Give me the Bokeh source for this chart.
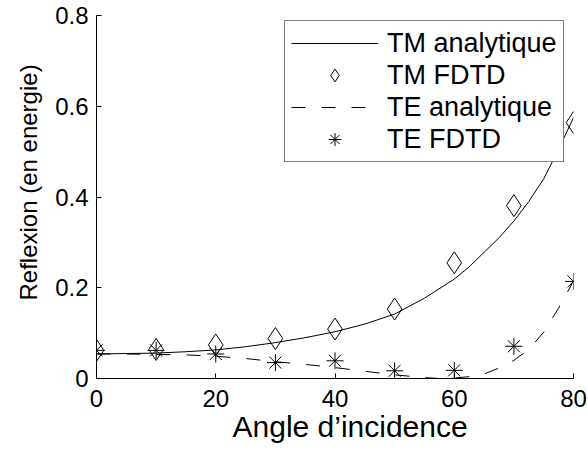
import numpy as np
from bokeh.plotting import figure
from bokeh.models import Range1d, FixedTicker, Legend, LegendItem, Title
from bokeh.embed import file_html
from bokeh.resources import INLINE

# ---- data ----
tm_curve_angles = [0, 5, 10, 15, 20, 25, 30, 35, 40, 45, 50, 55, 60, 62.5, 65, 67.5, 70, 72.5, 75, 77.5, 80]
tm_analytic = [0.054, 0.055, 0.056, 0.059, 0.063, 0.070, 0.079, 0.090, 0.103, 0.120, 0.142, 0.177,
               0.219, 0.246, 0.278, 0.310, 0.347, 0.390, 0.440, 0.505, 0.575]

te_curve_angles = [0, 5, 10, 15, 20, 25, 30, 35, 40, 45, 50, 55, 57.5, 60, 62.5, 65, 67.5, 70, 72.5, 75, 77.5, 80]
te_analytic = [0.054, 0.054, 0.053, 0.052, 0.049, 0.044, 0.037, 0.031, 0.024, 0.016, 0.008, 0.002,
               0.0, 0.001, 0.004, 0.010, 0.023, 0.040, 0.064, 0.102, 0.155, 0.215]

fdtd_angles = [0, 10, 20, 30, 40, 50, 60, 70, 80]
tm_fdtd = [0.062, 0.064, 0.074, 0.088, 0.109, 0.153, 0.255, 0.381, 0.564]
te_fdtd = [0.062, 0.062, 0.054, 0.035, 0.039, 0.017, 0.018, 0.071, 0.214]

x_ticks = [0, 20, 40, 60, 80]
y_ticks = [0, 0.2, 0.4, 0.6, 0.8]
y_tick_labels = ["0", "0.2", "0.4", "0.6", "0.8"]

labels = ["TM analytique", "TM FDTD", "TE analytique", "TE FDTD"]
x_label = "Angle d\u2019incidence"
y_label = "Reflexion (en energie)"

FONT = "Liberation Sans"

p = figure(width=588, height=450, x_range=Range1d(0, 80), y_range=Range1d(0, 0.8),
           output_backend="svg", toolbar_location=None,
           min_border_left=96, min_border_right=15, min_border_top=15, min_border_bottom=72)
p.background_fill_color = "white"
p.border_fill_color = "white"
p.outline_line_color = None
p.xgrid.visible = False
p.ygrid.visible = False

r1 = p.line(tm_curve_angles, tm_analytic, line_color="black", line_width=1)
r2 = p.scatter(fdtd_angles, tm_fdtd, marker="diamond", size=22,
               fill_color=None, line_color="black", line_width=1)
r3 = p.line(te_curve_angles, te_analytic, line_color="black", line_width=1, line_dash="14 16")
r4 = p.scatter(fdtd_angles, te_fdtd, marker="asterisk", size=17,
               line_color="black", line_width=1)

for ax in (p.xaxis[0], p.yaxis[0]):
    ax.axis_line_color = "black"
    ax.axis_line_width = 1
    ax.major_tick_in = 5
    ax.major_tick_out = 0
    ax.minor_tick_in = 0
    ax.minor_tick_out = 0
    ax.major_tick_line_color = "black"
    ax.major_label_text_font = FONT
    ax.major_label_text_font_size = "24px"
    ax.major_label_text_color = "black"

p.xaxis.ticker = FixedTicker(ticks=x_ticks)
p.yaxis.ticker = FixedTicker(ticks=y_ticks)
p.yaxis.major_label_overrides = {t: s for t, s in zip(y_ticks, y_tick_labels)}
p.xaxis.major_label_standoff = 11
p.yaxis.major_label_standoff = 8

xtitle = Title(text=x_label, align="left", offset=136, standoff=0, vertical_align="top",
               text_font=FONT, text_font_size="30px", text_font_style="normal",
               text_color="black")
p.add_layout(xtitle, "below")

ytitle = Title(text=y_label, align="left", offset=78, standoff=22,
               text_font=FONT, text_font_size="24px", text_font_style="normal",
               text_color="black")
p.add_layout(ytitle, "left")

legend = Legend(items=[LegendItem(label=labels[0], renderers=[r1]),
                       LegendItem(label=labels[1], renderers=[r2]),
                       LegendItem(label=labels[2], renderers=[r3]),
                       LegendItem(label=labels[3], renderers=[r4])],
                location=(188, 216))
legend.border_line_color = "black"
legend.border_line_width = 1
legend.background_fill_color = "white"
legend.background_fill_alpha = 1.0
legend.label_text_font = FONT
legend.label_text_font_size = "27px"
legend.label_text_color = "black"
legend.glyph_width = 87
legend.glyph_height = 32
legend.label_height = 32
legend.spacing = 0
legend.padding = 6
legend.margin = 0
legend.label_standoff = 9
p.add_layout(legend, "center")

open("out.html", "w").write(file_html(p, INLINE))
